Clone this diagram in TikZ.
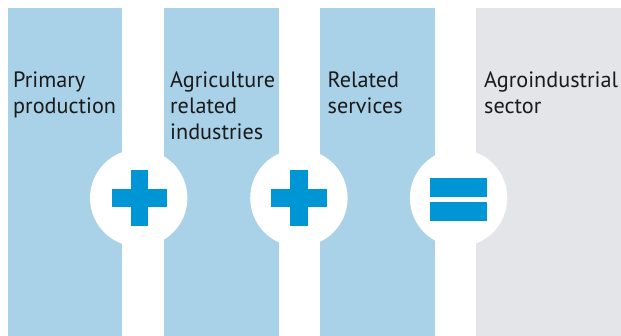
\documentclass[tikz,border=0pt]{standalone}
\usepackage{fontspec}
\setmainfont{PT Sans}
\definecolor{colblue}{HTML}{A9D1E8}
\definecolor{colgrey}{HTML}{E3E5E8}
\definecolor{signblue}{HTML}{0096D6}
\definecolor{txt}{HTML}{1A1A1A}
\begin{document}
\begin{tikzpicture}[x=1pt,y=-1pt,
  colbox/.style={fill=colblue,draw=none},
  greybox/.style={fill=colgrey,draw=none},
  disc/.style={circle,fill=white,draw=none,minimum size=97.4pt,inner sep=0pt},
  sign/.style={fill=signblue,draw=none},
  lbl/.style={anchor=north west,align=left,inner sep=0pt,text=txt,font=\fontsize{22.2}{26}\selectfont}]
\useasboundingbox (0,0) rectangle (621,336);
\fill[white] (0,0) rectangle (621,336);
% columns
\path[colbox] (7.5,8) rectangle (121.8,336);
\path[colbox] (163.5,8) rectangle (278.7,336);
\path[colbox] (320,8) rectangle (435.2,336);
\path[greybox] (476.3,8) rectangle (621,336);
% discs
\node[disc] (d1) at (138.7,198) {};
\node[disc] (d2) at (298.9,198) {};
\node[disc] (d3) at (458.6,198) {};
% plus signs
\path[sign] (111.7,189.3) rectangle (167.3,206.7);
\path[sign] (130.7,170.2) rectangle (148.3,225.8);
\path[sign] (271.3,189.3) rectangle (327,206.7);
\path[sign] (290.3,170.2) rectangle (307.9,225.8);
% equals sign
\path[sign] (430,178) rectangle (487,197);
\path[sign] (430,202) rectangle (487,221);
% labels
\node[lbl] (t1) at (13,71.5) {Primary\\production};
\node[lbl] (t2) at (170,71.5) {Agriculture\\related\\industries};
\node[lbl] (t3) at (327.5,71.5) {Related\\services};
\node[lbl] (t4) at (484,71.5) {Agroindustrial\\sector};
\end{tikzpicture}
\end{document}
